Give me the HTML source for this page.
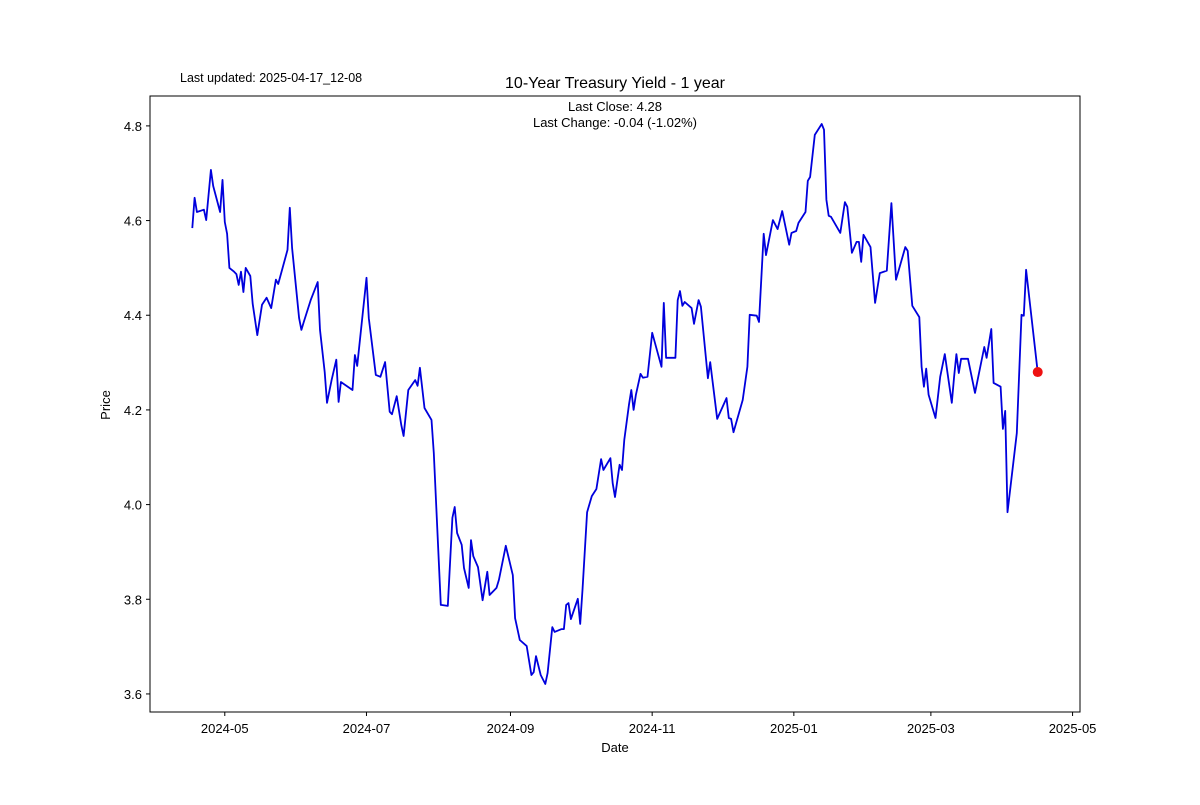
<!DOCTYPE html>
<html><head><meta charset="utf-8"><style>
body{margin:0;background:#fff}
svg text{font-family:"Liberation Sans","DejaVu Sans",sans-serif;fill:#000}
</style></head><body>
<svg id="chart" width="1200" height="800" xmlns="http://www.w3.org/2000/svg">
<rect width="1200" height="800" fill="#fff"/>
<text x="180" y="82" font-size="12.5">Last updated: 2025-04-17_12-08</text>
<text x="615" y="88" font-size="16" text-anchor="middle">10-Year Treasury Yield - 1 year</text>
<text x="615" y="111" font-size="13" text-anchor="middle">Last Close: 4.28</text>
<text x="615" y="127" font-size="13" text-anchor="middle">Last Change: -0.04 (-1.02%)</text>
<g id="plot"></g>
<text x="615" y="752" font-size="13" text-anchor="middle">Date</text>
<text x="0" y="0" font-size="13" text-anchor="middle" transform="translate(110,405) rotate(-90)">Price</text>
</svg>
<script>
const days=[0,1,2,5,6,8,9,12,13,14,15,16,18,19,20,21,22,23,25,26,28,30,32,34,36,37,41,42,43,46,47,48,51,54,55,57,58,60,62,63,64,69,70,71,75,76,79,81,83,85,86,88,90,91,93,96,97,98,100,103,104,107,110,112,113,114,116,117,119,120,121,123,125,127,128,131,132,135,138,139,141,144,146,147,148,150,152,153,155,156,159,160,161,162,163,166,167,168,170,172,174,176,177,180,181,182,184,185,186,188,189,190,191,193,194,196,198,202,203,204,208,209,210,211,212,215,216,218,219,222,223,226,230,231,232,233,237,239,240,243,244,246,247,250,252,254,257,258,260,261,264,265,266,268,271,272,273,274,275,279,281,282,284,286,287,288,289,292,294,296,299,301,303,307,308,310,313,314,315,316,317,320,322,324,327,328,329,330,331,334,337,341,342,344,345,348,349,350,351,355,357,358,359,364];
const prices=[4.584,4.648,4.618,4.623,4.601,4.707,4.673,4.618,4.686,4.597,4.572,4.500,4.492,4.487,4.464,4.492,4.449,4.500,4.483,4.424,4.358,4.422,4.437,4.415,4.475,4.466,4.538,4.627,4.542,4.394,4.369,4.386,4.432,4.470,4.369,4.280,4.215,4.263,4.306,4.217,4.259,4.242,4.316,4.293,4.479,4.394,4.274,4.270,4.301,4.196,4.191,4.229,4.168,4.145,4.242,4.263,4.251,4.289,4.204,4.179,4.109,3.788,3.786,3.972,3.995,3.940,3.915,3.866,3.824,3.925,3.891,3.868,3.798,3.858,3.809,3.824,3.841,3.913,3.851,3.760,3.714,3.701,3.640,3.646,3.680,3.640,3.621,3.644,3.741,3.731,3.737,3.737,3.788,3.792,3.758,3.801,3.748,3.820,3.984,4.018,4.033,4.096,4.073,4.098,4.045,4.016,4.084,4.073,4.137,4.210,4.242,4.200,4.232,4.276,4.268,4.270,4.363,4.291,4.426,4.310,4.310,4.432,4.451,4.420,4.428,4.415,4.382,4.432,4.418,4.267,4.301,4.181,4.225,4.183,4.181,4.153,4.221,4.291,4.401,4.399,4.386,4.572,4.527,4.601,4.582,4.620,4.549,4.574,4.578,4.595,4.618,4.684,4.692,4.781,4.804,4.792,4.644,4.610,4.608,4.574,4.639,4.629,4.532,4.555,4.555,4.513,4.570,4.544,4.426,4.489,4.494,4.637,4.475,4.544,4.536,4.420,4.396,4.291,4.249,4.287,4.232,4.183,4.270,4.318,4.215,4.270,4.318,4.278,4.308,4.308,4.236,4.333,4.310,4.371,4.257,4.249,4.160,4.198,3.984,4.151,4.401,4.399,4.496,4.280];
const xTickDays=[14,75,137,198,259,318,379];
const xTickLabels=["2024-05","2024-07","2024-09","2024-11","2025-01","2025-03","2025-05"];
const yTicks=[3.6,3.8,4.0,4.2,4.4,4.6,4.8];

const NS="http://www.w3.org/2000/svg";
const L=150,R=1080,T=96,B=712;
const dMin=Math.min(...days),dMax=Math.max(...days),dPad=(dMax-dMin)*0.05;
const pMin=Math.min(...prices),pMax=Math.max(...prices),pPad=(pMax-pMin)*0.05;
const xs=d=>L+(d-(dMin-dPad))/((dMax+dPad)-(dMin-dPad))*(R-L);
const ys=v=>B-(v-(pMin-pPad))/((pMax+pPad)-(pMin-pPad))*(B-T);
const g=document.getElementById('plot');
function mk(tag,attrs){const e=document.createElementNS(NS,tag);for(const k in attrs)e.setAttribute(k,attrs[k]);g.appendChild(e);return e;}
xTickDays.forEach((d,i)=>{
  const x=xs(d);
  const t=mk('line',{x1:x,x2:x,y1:B,y2:B+4,stroke:'#000','stroke-width':1});
  
  
  const lb=mk('text',{x:x,y:B+21,'font-size':13,'text-anchor':'middle'});
  lb.textContent=xTickLabels[i];
  
  
});
yTicks.forEach(v=>{
  const y=ys(v);
  const t=mk('line',{x1:L-4,x2:L,y1:y,y2:y,stroke:'#000','stroke-width':1});
  
  
  const lb=mk('text',{x:L-8,y:y+5,'font-size':13,'text-anchor':'end'});
  lb.textContent=v.toFixed(1);
  
  
});
const pts=days.map((d,i)=>xs(d).toFixed(1)+','+ys(prices[i]).toFixed(1)).join(' ');
const line=mk('polyline',{points:pts,fill:'none',stroke:'#0000dd','stroke-width':1.8,'stroke-linejoin':'round'});


const n=days.length-1;
const dot=mk('circle',{cx:xs(days[n]),cy:ys(prices[n]),r:5,fill:'#ee1111'});


const frame=mk('rect',{x:L,y:T,width:R-L,height:B-T,fill:'none',stroke:'#000','stroke-width':1});


</script>
</body></html>
